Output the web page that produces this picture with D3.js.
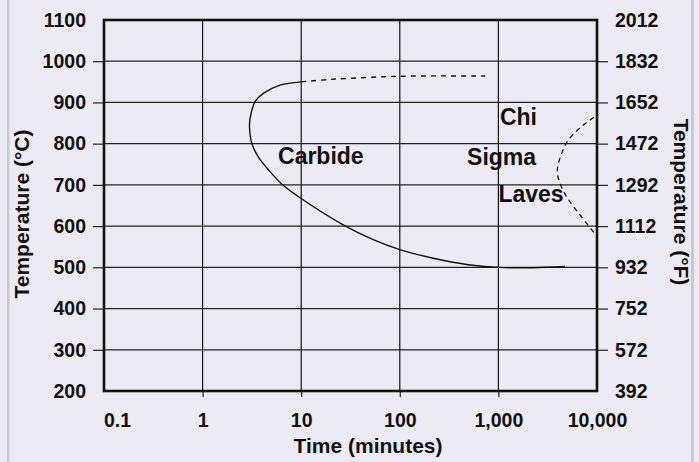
<!DOCTYPE html>
<html>
<head>
<meta charset="utf-8">
<script src="https://cdn.jsdelivr.net/npm/d3@7"></script>
<style>
  html, body { margin: 0; padding: 0; background: #ECEBF3; }
  svg { display: block; }
  text { font-family: "Liberation Sans", Arial, Helvetica, sans-serif; font-weight: bold; fill: #111; }
</style>
</head>
<body>
<svg id="chart" width="699" height="462"></svg>
<script>
// ---- Data ----
const timeTicks = [0.1, 1, 10, 100, 1000, 10000];
const timeTickLabels = ["0.1", "1", "10", "100", "1,000", "10,000"];
const celsiusTicks = [200, 300, 400, 500, 600, 700, 800, 900, 1000, 1100];
const fahrenheitTicks = [392, 572, 752, 932, 1112, 1292, 1472, 1652, 1832, 2012];

// Carbide C-curve (solid): time (min), temperature (°C)
const carbideTime = [10, 6.1, 4.13, 3.4, 3.03, 2.99, 3.15, 3.67, 4.6, 6.3, 10, 26.7, 53.8, 100, 219, 476, 1000, 2260, 4730];
const carbideTemp = [950, 942, 922, 902, 861, 841, 801, 768, 738, 703, 667, 603, 567, 543, 522, 507, 500, 499, 502];

// Carbide upper limit (dashed)
const carbideUpperTime = [10, 20, 50, 127, 731];
const carbideUpperTemp = [950, 956, 961, 964, 964];

// Chi / Sigma / Laves curve (dashed)
const intermetallicTime = [9330, 7260, 5120, 4390, 3960, 4150, 4930, 6730, 9780];
const intermetallicTemp = [864, 845, 809, 777, 736, 708, 671, 627, 578];

// Region labels
const labelNames = ["Carbide", "Chi", "Sigma", "Laves"];
const labelTime = [5.82, 1037, 481, 1000];
const labelTemp = [751, 845, 748, 659];

// ---- Chart ----
const svg = d3.select("#chart");
const W = 699, H = 462;
const mLeft = 104, mRight = 597, mTop = 20, mBottom = 391;

svg.append("rect").attr("width", W).attr("height", H).attr("fill", "#ECEBF3");
svg.append("rect").attr("x", 7).attr("y", 0).attr("width", 2.5).attr("height", H).attr("fill", "#C9C9CE");
svg.append("rect").attr("x", 691).attr("y", 0).attr("width", 3).attr("height", H).attr("fill", "#C9C9CE");

const x = d3.scaleLog().domain([0.1, 10000]).range([mLeft, mRight]);
const y = d3.scaleLinear().domain([200, 1100]).range([mBottom, mTop]);
const yF = d3.scaleLinear().domain([392, 2012]).range([mBottom, mTop]);

// gridlines
const g = svg.append("g");
g.selectAll("line.v").data(timeTicks.slice(1, -1)).enter().append("line")
  .attr("x1", d => x(d)).attr("x2", d => x(d)).attr("y1", mTop).attr("y2", mBottom)
  .attr("stroke", "#111").attr("stroke-width", 1.2);
g.selectAll("line.h").data(celsiusTicks.slice(1, -1)).enter().append("line")
  .attr("x1", mLeft).attr("x2", mRight).attr("y1", d => y(d)).attr("y2", d => y(d))
  .attr("stroke", "#222").attr("stroke-width", 1.2);

function styleAxis(sel, ends) {
  sel.select(".domain").remove();
  sel.selectAll(".tick line").attr("stroke", "#222").attr("stroke-width", 1.2)
    .filter(d => ends.includes(d)).remove();
  sel.selectAll(".tick text").style("font-size", "19.5px").attr("fill", "#111");
}

const axL = svg.append("g").attr("transform", `translate(${mLeft},0)`)
  .call(d3.axisLeft(y).tickValues(celsiusTicks).tickFormat(d3.format("d")).tickSize(11).tickPadding(7));
styleAxis(axL, [200, 1100]);

const axR = svg.append("g").attr("transform", `translate(${mRight},0)`)
  .call(d3.axisRight(yF).tickValues(fahrenheitTicks).tickFormat(d3.format("d")).tickSize(11).tickPadding(7));
styleAxis(axR, [392, 2012]);

const axB = svg.append("g").attr("transform", `translate(0,${mBottom})`)
  .call(d3.axisBottom(x).tickValues(timeTicks).tickFormat((d, i) => timeTickLabels[i]).tickSize(6).tickPadding(16.5));
styleAxis(axB, [0.1, 10000]);
axB.selectAll(".tick text").filter(d => d === 0.1).attr("dx", 13);

// frame
svg.append("rect").attr("x", mLeft).attr("y", mTop).attr("width", mRight - mLeft).attr("height", mBottom - mTop)
  .attr("fill", "none").attr("stroke", "#111").attr("stroke-width", 2.6);

// curves
const line = d3.line().x(d => x(d[0])).y(d => y(d[1])).curve(d3.curveCatmullRom.alpha(0.5));
const zip = (a, b) => a.map((v, i) => [v, b[i]]);

svg.append("path").attr("d", line(zip(carbideTime, carbideTemp)))
  .attr("fill", "none").attr("stroke", "#111").attr("stroke-width", 1.4);
svg.append("path").attr("d", line(zip(carbideUpperTime, carbideUpperTemp)))
  .attr("fill", "none").attr("stroke", "#111").attr("stroke-width", 1.4).attr("stroke-dasharray", "5,5");
svg.append("path").attr("d", line(zip(intermetallicTime, intermetallicTemp)))
  .attr("fill", "none").attr("stroke", "#111").attr("stroke-width", 1.3).attr("stroke-dasharray", "5,4");

// region labels
svg.selectAll("text.region").data(labelNames).enter().append("text")
  .attr("class", "region")
  .attr("x", (d, i) => x(labelTime[i])).attr("y", (d, i) => y(labelTemp[i]))
  .style("font-size", "23px").text(d => d);

// axis titles
svg.append("text").attr("transform", "translate(29,214) rotate(-90)")
  .attr("text-anchor", "middle").style("font-size", "21px").text("Temperature (°C)");
svg.append("text").attr("transform", "translate(674,202) rotate(90)")
  .attr("text-anchor", "middle").style("font-size", "21px").text("Temperature (°F)");
svg.append("text").attr("x", 368).attr("y", 453)
  .attr("text-anchor", "middle").style("font-size", "21px").text("Time (minutes)");
</script>
</body>
</html>
